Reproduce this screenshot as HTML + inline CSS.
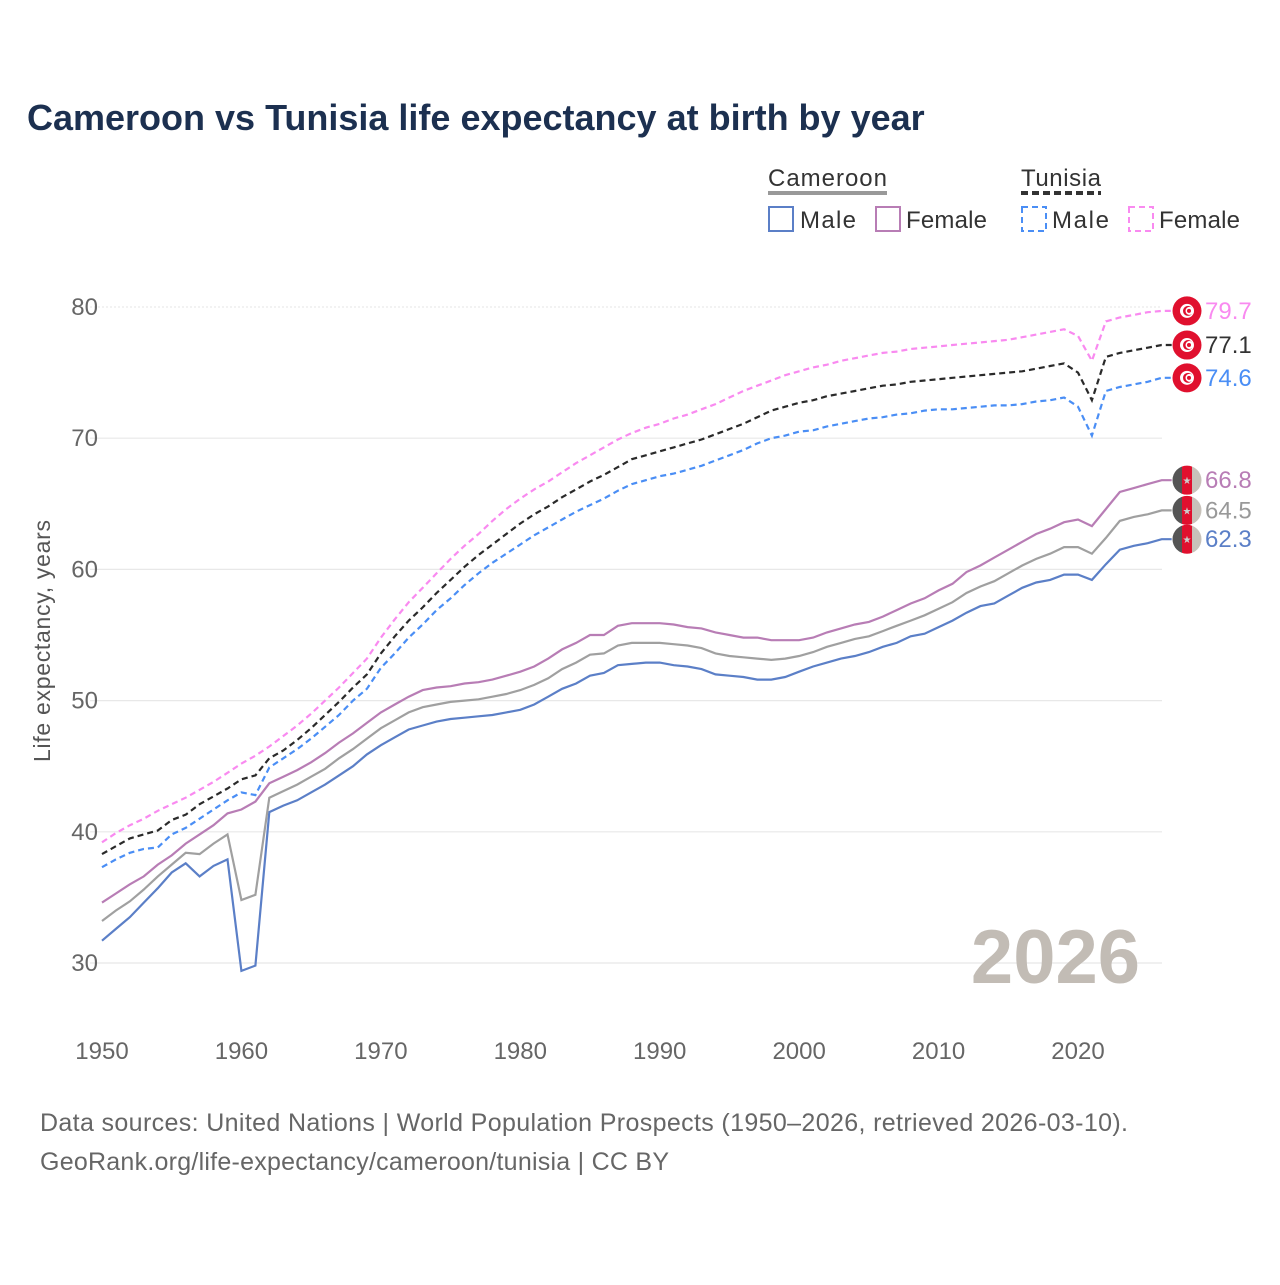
<!DOCTYPE html>
<html><head><meta charset="utf-8">
<style>
body{margin:0;background:#fff;}
svg text{font-family:"Liberation Sans",sans-serif;}
</style></head>
<body>
<svg width="1280" height="1280" viewBox="0 0 1280 1280" xmlns="http://www.w3.org/2000/svg">
<text x="27" y="130" font-size="36" font-weight="bold" fill="#1c3050">Cameroon vs Tunisia life expectancy at birth by year</text>
<g>
<text x="768" y="186" font-size="24" fill="#333" textLength="119">Cameroon</text>
<line x1="768" y1="193" x2="887" y2="193" stroke="#999" stroke-width="4"/>
<text x="1021" y="186" font-size="24" fill="#333" textLength="80">Tunisia</text>
<line x1="1021" y1="193" x2="1101" y2="193" stroke="#333" stroke-width="4" stroke-dasharray="7,4"/>
<rect x="769" y="207" width="24" height="24" fill="none" stroke="#5b7fc7" stroke-width="2"/>
<text x="800" y="228" font-size="24" fill="#333" textLength="56">Male</text>
<rect x="876" y="207" width="24" height="24" fill="none" stroke="#b87db5" stroke-width="2"/>
<text x="906" y="228" font-size="24" fill="#333" textLength="81">Female</text>
<rect x="1022" y="207" width="24" height="24" fill="none" stroke="#4a8ef5" stroke-width="2" stroke-dasharray="6,4"/>
<text x="1052" y="228" font-size="24" fill="#333" textLength="57">Male</text>
<rect x="1129" y="207" width="24" height="24" fill="none" stroke="#f98af0" stroke-width="2" stroke-dasharray="6,4"/>
<text x="1159" y="228" font-size="24" fill="#333" textLength="81">Female</text>
</g>
<g id="grid"></g>
<g id="axes"></g>
<text x="1140" y="983" font-size="76" font-weight="bold" fill="#c2bcb5" text-anchor="end">2026</text>
<g id="series"></g>
<g id="ends"></g>
<text transform="translate(50,641) rotate(-90)" font-size="23" fill="#555" text-anchor="middle" textLength="242">Life expectancy, years</text>
<text x="40" y="1131" font-size="25" fill="#666" textLength="1088">Data sources: United Nations | World Population Prospects (1950–2026, retrieved 2026-03-10).</text>
<text x="40" y="1170" font-size="25" fill="#666" textLength="629">GeoRank.org/life-expectancy/cameroon/tunisia | CC BY</text>
</svg>
<script>
const startYear = 1950;
const xTicks = [1950,1960,1970,1980,1990,2000,2010,2020];
const yTicks = [30,40,50,60,70,80];
const cmrMale = [31.7,32.6,33.5,34.6,35.7,36.9,37.6,36.6,37.4,37.9,29.4,29.8,41.5,42.0,42.4,43.0,43.6,44.3,45.0,45.9,46.6,47.2,47.8,48.1,48.4,48.6,48.7,48.8,48.9,49.1,49.3,49.7,50.3,50.9,51.3,51.9,52.1,52.7,52.8,52.9,52.9,52.7,52.6,52.4,52.0,51.9,51.8,51.6,51.6,51.8,52.2,52.6,52.9,53.2,53.4,53.7,54.1,54.4,54.9,55.1,55.6,56.1,56.7,57.2,57.4,58.0,58.6,59.0,59.2,59.6,59.6,59.2,60.4,61.5,61.8,62.0,62.3];
const cmrTotal = [33.2,34.0,34.7,35.6,36.6,37.5,38.4,38.3,39.1,39.8,34.8,35.2,42.6,43.1,43.6,44.2,44.8,45.6,46.3,47.1,47.9,48.5,49.1,49.5,49.7,49.9,50.0,50.1,50.3,50.5,50.8,51.2,51.7,52.4,52.9,53.5,53.6,54.2,54.4,54.4,54.4,54.3,54.2,54.0,53.6,53.4,53.3,53.2,53.1,53.2,53.4,53.7,54.1,54.4,54.7,54.9,55.3,55.7,56.1,56.5,57.0,57.5,58.2,58.7,59.1,59.7,60.3,60.8,61.2,61.7,61.7,61.2,62.4,63.7,64.0,64.2,64.5];
const cmrFemale = [34.6,35.3,36.0,36.6,37.5,38.2,39.1,39.8,40.5,41.4,41.7,42.3,43.7,44.2,44.7,45.3,46.0,46.8,47.5,48.3,49.1,49.7,50.3,50.8,51.0,51.1,51.3,51.4,51.6,51.9,52.2,52.6,53.2,53.9,54.4,55.0,55.0,55.7,55.9,55.9,55.9,55.8,55.6,55.5,55.2,55.0,54.8,54.8,54.6,54.6,54.6,54.8,55.2,55.5,55.8,56.0,56.4,56.9,57.4,57.8,58.4,58.9,59.8,60.3,60.9,61.5,62.1,62.7,63.1,63.6,63.8,63.3,64.6,65.9,66.2,66.5,66.8];
const tunMale = [37.3,37.9,38.4,38.7,38.8,39.8,40.3,41.0,41.7,42.4,43.0,42.8,44.9,45.6,46.3,47.1,48.0,48.9,50.0,50.9,52.5,53.6,54.8,55.8,56.9,57.8,58.8,59.7,60.5,61.2,61.9,62.6,63.2,63.8,64.4,64.9,65.4,66.0,66.5,66.8,67.1,67.3,67.6,67.9,68.3,68.7,69.1,69.6,70.0,70.2,70.5,70.6,70.9,71.1,71.3,71.5,71.6,71.8,71.9,72.1,72.2,72.2,72.3,72.4,72.5,72.5,72.6,72.8,72.9,73.1,72.4,70.2,73.6,73.9,74.1,74.3,74.6];
const tunTotal = [38.3,38.9,39.5,39.8,40.1,40.9,41.3,42.1,42.7,43.3,44.0,44.3,45.6,46.2,47.0,47.9,48.9,49.9,51.0,52.0,53.6,54.9,56.1,57.1,58.2,59.2,60.2,61.1,61.9,62.7,63.5,64.2,64.8,65.5,66.1,66.7,67.2,67.8,68.4,68.7,69.0,69.3,69.6,69.9,70.3,70.7,71.1,71.6,72.1,72.4,72.7,72.9,73.2,73.4,73.6,73.8,74.0,74.1,74.3,74.4,74.5,74.6,74.7,74.8,74.9,75.0,75.1,75.3,75.5,75.7,75.0,72.9,76.2,76.5,76.7,76.9,77.1];
const tunFemale = [39.2,39.9,40.5,41.0,41.6,42.1,42.6,43.2,43.8,44.5,45.2,45.8,46.5,47.3,48.1,49.0,50.0,51.0,52.1,53.2,54.8,56.2,57.5,58.6,59.7,60.8,61.8,62.7,63.7,64.6,65.4,66.1,66.7,67.4,68.1,68.7,69.3,69.9,70.4,70.8,71.1,71.5,71.8,72.2,72.6,73.1,73.6,74.0,74.4,74.8,75.1,75.4,75.6,75.9,76.1,76.3,76.5,76.6,76.8,76.9,77.0,77.1,77.2,77.3,77.4,77.5,77.7,77.9,78.1,78.3,77.8,75.9,78.9,79.2,79.4,79.6,79.7];

const NS='http://www.w3.org/2000/svg';
const X=y=>102+(y-1950)*(1078-102)/70;
const Y=v=>307+(80-v)*(963-307)/50;
function mk(tag,parent){const e=document.createElementNS(NS,tag);document.getElementById(parent).appendChild(e);return e;}

yTicks.forEach(t=>{
  const l=mk('line','grid');
  l.setAttribute('x1',90);l.setAttribute('x2',1162);l.setAttribute('y1',Y(t));l.setAttribute('y2',Y(t));
  l.setAttribute('stroke',t===80?'#e6e6e6':'#e8e8e8');l.setAttribute('stroke-width',t===80?1:1.2);
  if(t===80) l.setAttribute('stroke-dasharray','2,2');
  
  
  const s=mk('text','axes');
  s.setAttribute('x',98);s.setAttribute('y',Y(t)+8);s.setAttribute('text-anchor','end');
  s.setAttribute('font-size',24);s.setAttribute('fill','#666');s.textContent=t;
  
  
});
xTicks.forEach(t=>{
  const s=mk('text','axes');
  s.setAttribute('x',X(t));s.setAttribute('y',1059);s.setAttribute('text-anchor','middle');
  s.setAttribute('font-size',24);s.setAttribute('fill','#666');s.textContent=t;
  
  
});

const series=[
 {d:cmrMale,c:'#5b7fc7',dash:null,name:'cameroon-male',lab:'#5b7fc7',flag:'cmr'},
 {d:cmrTotal,c:'#a0a0a0',dash:null,name:'cameroon-total',lab:'#999',flag:'cmr'},
 {d:cmrFemale,c:'#b87db5',dash:null,name:'cameroon-female',lab:'#b87db5',flag:'cmr'},
 {d:tunMale,c:'#4a8ef5',dash:'6,4',name:'tunisia-male',lab:'#4a8ef5',flag:'tun'},
 {d:tunTotal,c:'#2a2a2a',dash:'6,4',name:'tunisia-total',lab:'#333',flag:'tun'},
 {d:tunFemale,c:'#f98af0',dash:'6,4',name:'tunisia-female',lab:'#f98af0',flag:'tun'}
];
series.forEach(s=>{
  const p=mk('path','series');
  const pts=s.d.map((v,i)=>X(startYear+i).toFixed(1)+','+Y(v).toFixed(1));
  const last=s.d[s.d.length-1];
  const lx=X(startYear+s.d.length-1);
  p.setAttribute('d','M'+pts.join(' L')+' L'+(lx+10)+','+Y(last).toFixed(1));
  p.setAttribute('fill','none');p.setAttribute('stroke',s.c);p.setAttribute('stroke-width',2.2);
  if(s.dash) p.setAttribute('stroke-dasharray',s.dash);
  
  
  const cy=Y(last), cx=1187;
  const g=mk('g','ends');
  
  
  if(s.flag==='tun'){
    g.innerHTML=`<circle cx="${cx}" cy="${cy}" r="14.5" fill="#e0102e"/><circle cx="${cx}" cy="${cy}" r="7" fill="#fff"/><circle cx="${cx+1}" cy="${cy}" r="5" fill="#e0102e"/><circle cx="${cx+2.5}" cy="${cy}" r="4" fill="#fff"/><circle cx="${cx+2}" cy="${cy}" r="2" fill="#e0102e"/>`;
  } else {
    g.innerHTML=`<clipPath id="cp-${s.name}"><circle cx="${cx}" cy="${cy}" r="14.5"/></clipPath><g clip-path="url(#cp-${s.name})"><rect x="${cx-15}" y="${cy-15}" width="10" height="30" fill="#555"/><rect x="${cx-5}" y="${cy-15}" width="10" height="30" fill="#e0102e"/><rect x="${cx+5}" y="${cy-15}" width="10" height="30" fill="#c8c2ba"/></g><text x="${cx}" y="${cy+4}" font-size="10" fill="#ccc" text-anchor="middle">★</text>`;
  }
  const t=mk('text','ends');
  t.setAttribute('x',1205);t.setAttribute('y',cy+8);t.setAttribute('font-size',24);t.setAttribute('fill',s.lab);
  t.textContent=last.toFixed(1);
  
  
});
</script>
</body></html>
